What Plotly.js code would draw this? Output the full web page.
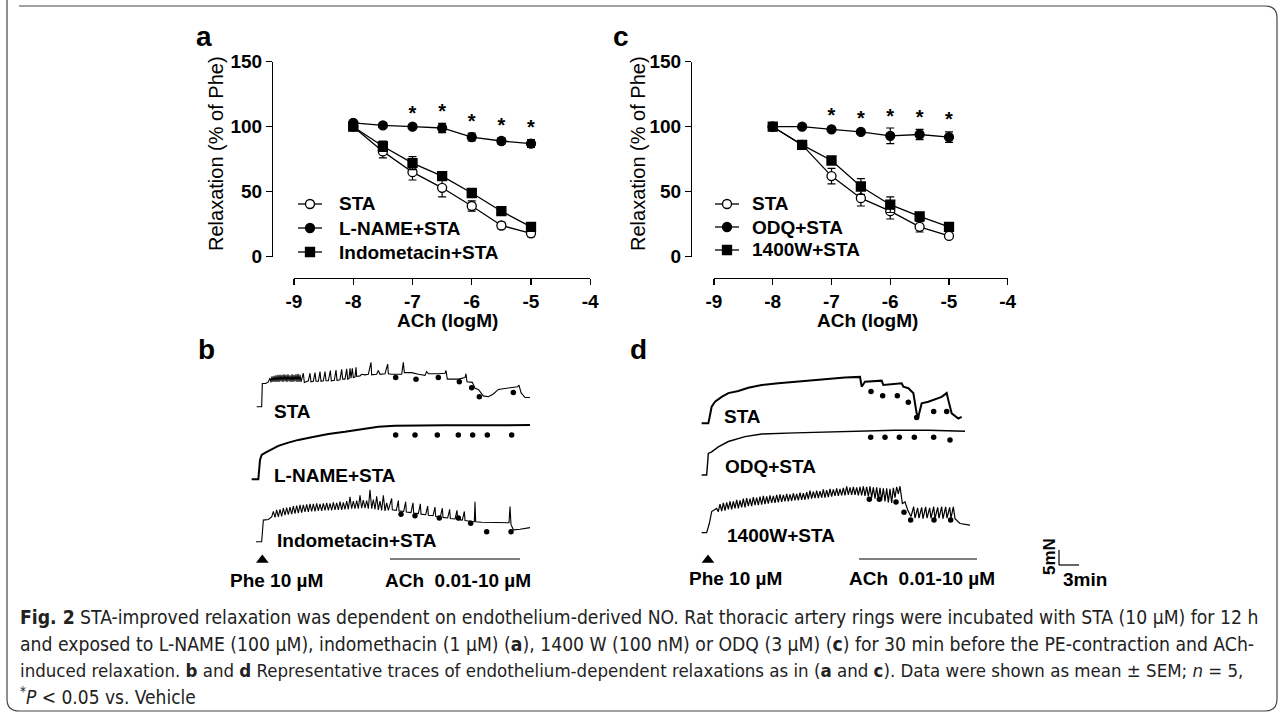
<!DOCTYPE html>
<html><head><meta charset="utf-8">
<script src="https://cdn.plot.ly/plotly-3.0.1.min.js"></script>
<style>html,body{margin:0;padding:0;background:#fff}#chart{width:1284px;height:715px}</style>
</head><body><div id="chart"></div>
<script>
// ---------- Panel a / c : concentration-response data ----------
const doseX = [-8, -7.5, -7, -6.5, -6, -5.5, -5];
const xTicks = [-9, -8, -7, -6, -5, -4];
const yTicks = [0, 50, 100, 150];
const sigDoses = [-7, -6.5, -6, -5.5, -5];

const aNames = ['STA', 'L-NAME+STA', 'Indometacin+STA'];
const aSTA = [100, 81, 65, 53, 39, 24, 18];
const aSTAerr = [1, 5, 6, 7, 4, 2.5, 2.5];
const aLNAME = [103, 101, 100, 99, 92, 89, 87];
const aLNAMEerr = [1, 1, 1, 3.5, 3, 2.5, 3];
const aIndo = [100, 85, 72, 62, 49, 35, 23];
const aIndoErr = [1, 4, 5, 2, 2, 2, 2];

const cNames = ['STA', 'ODQ+STA', '1400W+STA'];
const cSTA = [100, 86, 62, 45, 35, 23, 16];
const cSTAerr = [1, 1, 6, 6, 6, 4, 2];
const cODQ = [100, 100, 98, 96, 93, 94, 92];
const cODQerr = [1, 1, 1.5, 1.5, 6, 4, 4];
const c1400W = [100, 86, 74, 54, 40, 31, 23];
const c1400Werr = [1, 1, 2, 6, 6, 2, 2];

// ---------- Panel b / d : representative traces [time (min), tension] ----------
const bSTA = [[1.75,0],[2.5,0],[2.6,4.3],[3.1,4.3],[3.5,4.6],
 [3.75,5.3],[3.9,4.5],[4.05,5.6],[4.2,4.6],[4.35,5.7],[4.5,4.6],[4.65,5.8],[4.8,4.6],[4.95,5.9],[5.1,4.6],[5.25,5.9],[5.4,4.7],[5.55,5.9],[5.7,4.6],[5.85,6.0],[6.0,4.7],[6.15,5.9],[6.3,4.6],[6.45,6.0],[6.6,4.7],[6.75,5.8],[6.9,4.6],[7.05,6.0],[7.2,4.6],[7.35,5.9],[7.5,4.7],[7.65,6.0],[7.8,4.6],[7.95,6.1],[8.1,4.6],[8.25,5.9],[8.4,4.6],
 [8.75,6.2],[8.9,4.5],[9.25,4.6],[9.5,4.8],[9.75,6.2],[9.9,4.6],[10.25,4.7],[10.5,6.3],[10.65,4.7],[11.0,4.7],[11.25,6.5],[11.4,4.7],[11.75,4.8],[12.0,6.5],[12.15,4.8],[12.5,4.8],[12.8,6.7],[12.95,4.8],[13.4,4.9],[13.65,6.8],[13.8,4.9],[14.25,5.0],[14.5,6.9],[14.65,5.1],[15.0,5.1],[15.25,7.0],[15.4,5.1],[15.6,5.2],[15.75,7.1],[15.9,5.3],[16.1,7.1],[16.25,5.4],[16.5,5.5],[16.65,7.3],[16.75,5.6],[17.25,5.7],[17.5,6.0],[18.0,5.9],[18.5,6.0],[18.9,8.2],[19.0,5.9],[19.75,6.0],[20.0,6.7],[20.25,6.0],[21.0,6.1],[21.4,7.9],[21.5,6.1],[22.0,6.0],[23.5,6.0],[23.75,8.2],[23.9,6.3],[25.0,6.3],[26.0,6.0],[27.0,5.8],[27.25,6.5],[27.5,6.1],[29.0,6.1],[30.0,6.2],[30.15,6.7],[30.35,5.1],[32.0,5.1],[33.0,5.4],[33.15,6.1],[33.3,4.6],[34.1,4.5],[34.5,3.4],[35.0,3.2],[35.75,2.0],[36.5,1.85],[37.25,2.35],[38.0,3.2],[39.5,3.4],[40.9,3.7],[41.1,4.0],[41.4,2.6],[42.0,1.7],[42.75,1.7]];
const bSTAdots = [[22.6,5.4],[25.65,5.1],[29.0,5.4],[32.15,4.6],[34.0,3.5],[35.15,1.85],[40.25,2.65]];

const bLNAME = [[1.0,0],[2.0,0],[2.25,3.6],[2.5,4.5],[3.0,4.9],[4.0,5.6],[5.0,6.2],[6.5,6.8],[8.0,7.3],[10,7.8],[12.5,8.4],[15,8.8],[17.5,9.3],[20,9.75],[22.5,9.9],[25,9.95],[27.5,9.95],[30,10.0],[35,10.0],[40,10.05],[42.75,10.05]];
const bLNAMEdots = [[22.6,8.2],[25.5,8.2],[28.85,8.2],[32.0,8.2],[34.15,8.2],[36.35,8.2],[40.0,8.2]];

const bIndo = [[1.65,0],[2.5,0],[2.75,4.0],[3.5,4.1],[4.0,4.6],
 [4.25,5.6],[4.5,4.5],[4.75,5.9],[5.0,4.6],[5.25,6.0],[5.5,4.7],[5.75,6.2],[6.0,4.9],[6.25,6.3],[6.5,5.0],[6.75,6.4],[7.0,5.1],[7.25,6.6],[7.5,5.2],[7.75,6.7],[8.0,5.3],[8.25,6.8],[8.5,5.4],[8.75,6.8],[9.0,5.5],[9.25,6.9],[9.5,5.5],[9.75,7.0],[10.0,5.6],[10.25,7.0],[10.5,5.6],[10.75,7.1],[11.0,5.7],[11.25,7.0],[11.5,5.7],[11.75,7.1],[12.0,5.8],[12.25,7.2],[12.5,5.8],[12.75,7.1],[13.0,5.8],[13.25,7.3],[13.5,5.9],[13.75,7.2],[14.0,5.9],[14.25,7.4],[14.5,5.9],[14.75,7.3],[15.0,6.0],[15.25,7.5],[15.5,6.0],[15.75,8.3],[16.0,6.1],[16.25,7.5],[16.5,6.1],[16.75,7.6],[17.0,6.1],[17.25,8.6],[17.5,6.2],[17.75,7.7],[18.0,6.2],[18.25,7.6],[18.5,6.1],[18.75,9.6],[19.0,6.1],[19.25,7.8],[19.5,6.0],[19.75,8.4],[20.0,5.9],[20.25,7.5],[20.5,5.8],[20.75,8.6],[21.0,5.7],[21.25,7.2],
 [21.5,5.8],[22.0,8.0],[22.1,5.9],[22.7,5.8],[23.0,7.6],[23.1,5.7],[23.8,5.6],[24.1,7.4],[24.2,5.5],[24.9,5.4],[25.2,7.2],[25.3,5.3],[26.0,5.2],[26.3,7.0],[26.4,5.1],[27.1,5.0],[27.4,6.6],[27.5,4.9],[28.2,4.8],[28.5,6.4],[28.6,4.7],[29.3,4.6],[29.6,6.2],[29.7,4.5],[30.4,4.4],[30.7,6.0],[30.8,4.3],[31.5,4.2],[31.8,5.8],[31.9,4.1],[32.6,4.0],[32.9,5.6],[33.0,3.9],[33.6,3.8],[34.4,3.7],[34.5,7.4],[34.6,3.7],[35.5,3.6],[37.0,3.6],[39.0,3.5],[39.6,3.5],[39.75,6.5],[39.9,3.2],[40.25,2.2],[41.25,2.3],[42.75,2.6]];
const bIndoDots = [[23.4,5.1],[25.5,4.8],[29.15,4.4],[32.0,4.4],[33.85,3.4],[36.25,1.85],[39.9,1.85]];

const dSTA = [[1.0,0],[2.0,0],[2.25,1.5],[2.5,3.1],[3.0,4.0],[4.0,4.9],[5.0,5.6],[6.5,6.0],[8.0,6.6],[10,7.1],[12.5,7.4],[15,7.7],[17.5,8.0],[20,8.3],[22.5,8.5],[24.75,8.6],[25.0,6.8],[25.5,7.7],[28,7.9],[28.25,7.1],[31,7.4],[31.25,6.8],[32,6.5],[32.5,5.9],[32.75,5.6],[33.25,1.85],[33.5,1.2],[34,3.7],[35,4.0],[37,4.9],[37.75,5.6],[38,4.3],[38.5,1.85],[39.5,0.9],[40,1.2]];
const dSTAdots = [[26.4,5.9],[28.15,5.1],[30.35,5.1],[32.0,3.9],[33.25,1.1],[35.8,2.2],[37.75,2.2]];

const dODQ = [[1.0,0],[1.75,0],[2.0,4.0],[2.5,4.3],[3.5,5.2],[5.0,6.2],[7.5,7.1],[10,7.6],[15,7.8],[20,8.0],[25,8.2],[30,8.3],[35,8.3],[40.5,8.1]];
const dODQdots = [[26.35,7.0],[28.5,7.0],[30.65,7.0],[32.9,7.0],[35.8,7.0],[38.25,6.5]];

const d1400W = [[1.0,0],[1.75,0],[2.15,1.7],[2.5,3.9],[3.25,4.5],
 [3.5,3.9],[3.75,5.3],[4.0,4.0],[4.25,5.5],[4.5,4.1],[4.75,5.6],[5.0,4.3],[5.25,5.8],[5.5,4.3],[5.75,5.8],[6.0,4.5],[6.25,6.1],[6.5,4.5],[6.75,6.0],[7.0,4.7],[7.25,6.3],[7.5,4.7],[7.75,6.4],[8.0,4.9],[8.25,6.3],[8.5,4.9],[8.75,6.6],[9.0,5.1],[9.25,6.5],[9.5,5.1],[9.75,6.7],[10.0,5.2],[10.25,6.8],[10.5,5.3],[10.75,6.7],[11.0,5.4],[11.25,6.9],[11.5,5.5],[11.75,6.8],[12.0,5.5],[12.25,7.0],[12.5,5.6],[12.75,7.1],[13.0,5.7],[13.25,7.0],[13.5,5.8],[13.75,7.2],[14.0,5.8],[14.25,7.1],[14.5,5.9],[14.75,7.3],[15.0,6.0],[15.25,7.2],[15.5,6.0],[15.75,7.4],[16.0,6.1],[16.25,7.3],[16.5,6.1],[16.75,7.5],[17.0,6.2],[17.25,7.8],[17.5,6.3],[17.75,7.6],[18.0,6.4],[18.25,7.8],[18.5,6.4],[18.75,7.7],[19.0,6.5],[19.25,8.0],[19.5,6.5],[19.75,7.9],[20.0,6.6],[20.25,8.1],[20.5,6.7],[20.75,8.0],[21.0,6.8],[21.25,8.2],[21.5,6.8],[21.75,8.1],[22.0,6.9],[22.25,8.3],[22.5,6.9],[22.75,8.6],[23.0,7.0],[23.25,8.4],[23.5,7.0],[23.75,8.5],[24.0,7.0],[24.25,8.4],[24.5,6.9],[24.75,8.5],[25.0,6.9],[25.25,8.6],[25.5,6.8],[25.75,8.5],[26.0,6.7],[26.25,8.6],[26.5,6.5],[26.75,8.4],[27.0,6.3],[27.25,8.4],[27.5,6.1],[27.75,8.3],[28.0,6.0],[28.25,8.2],[28.5,5.8],[28.75,8.2],[29.0,5.6],[29.25,8.1],[29.5,5.5],[29.75,8.3],[30.0,6.5],[30.25,8.5],[30.5,7.2],[30.75,8.6],
 [31.1,5.4],[31.5,5.7],[31.9,4.2],[32.4,3.0],[32.8,4.8],[33.0,2.7],[33.4,4.6],[33.6,2.7],[34.0,4.7],[34.2,2.6],[34.6,4.8],[34.8,2.7],[35.2,4.6],[35.4,2.7],[35.8,4.8],[36.0,2.6],[36.4,4.7],[36.6,2.7],[37.0,4.8],[37.2,2.6],[37.6,4.8],[37.8,2.7],[38.2,4.7],[38.4,2.7],[38.75,4.8],[39.0,2.6],[39.75,1.7],[41.25,1.4]];
const d1400Wdots = [[26.15,6.2],[27.65,6.2],[30.15,5.7],[31.35,3.8],[32.35,2.35],[35.85,2.35],[38.35,2.35]];

// ---------- layout helpers ----------
const W = 1284, H = 715;
const PX = v => v / W;
const PY = v => 1 - v / H;
const FONT = 'Liberation Sans, Arial, Helvetica, sans-serif';
const NARROW = 'Liberation Sans Narrow, DejaVu Sans Condensed, Arial Narrow, sans-serif';
const BLACK = '#000';

function crc(x, y, err, symbol, fill, xa, ya) {
  return {
    x: x, y: y, type: 'scatter', mode: 'lines+markers',
    xaxis: xa, yaxis: ya, cliponaxis: false, showlegend: false, hoverinfo: 'skip',
    line: {color: BLACK, width: 1.3},
    marker: {symbol: symbol, size: 9, color: fill, line: {color: BLACK, width: 1.3}},
    error_y: {type: 'data', array: err, visible: true, color: BLACK, thickness: 1.2, width: 4}
  };
}
function stars(means, errs, xa, ya) {
  const xs = [], ys = [];
  doseX.forEach((d, i) => { if (sigDoses.includes(d)) { xs.push(d); ys.push(means[i] + errs[i] + 8); } });
  return {x: xs, y: ys, type: 'scatter', mode: 'text', text: xs.map(() => '<b>*</b>'),
    textfont: {family: FONT, size: 20, color: BLACK}, textposition: 'middle center',
    xaxis: xa, yaxis: ya, showlegend: false, cliponaxis: false, hoverinfo: 'skip'};
}
function rec(pairs, offset, xa, ya, w) {
  return {x: pairs.map(p => p[0]), y: pairs.map(p => p[1] + offset), type: 'scatter', mode: 'lines',
    line: {color: BLACK, width: w || 1.1}, xaxis: xa, yaxis: ya, showlegend: false, hoverinfo: 'skip', cliponaxis: false};
}
function dots(pairs, offset, xa, ya) {
  return {x: pairs.map(p => p[0]), y: pairs.map(p => p[1] + offset), type: 'scatter', mode: 'markers',
    marker: {color: BLACK, size: 5.5}, xaxis: xa, yaxis: ya, showlegend: false, hoverinfo: 'skip', cliponaxis: false};
}

// tension axis: 5.4 px per unit; panel b/d plotting window px 330..560
const tensTop = (560 - 330) / 5.4;
const offB = [28.39, 14.94, 3.39];
const offD = [25.31, 15.74, 5.06];

const traces = [
  crc(doseX, aSTA, aSTAerr, 'circle', '#fff', 'x', 'y'),
  crc(doseX, aLNAME, aLNAMEerr, 'circle', BLACK, 'x', 'y'),
  crc(doseX, aIndo, aIndoErr, 'square', BLACK, 'x', 'y'),
  stars(aLNAME, aLNAMEerr, 'x', 'y'),
  crc(doseX, cSTA, cSTAerr, 'circle', '#fff', 'x2', 'y2'),
  crc(doseX, cODQ, cODQerr, 'circle', BLACK, 'x2', 'y2'),
  crc(doseX, c1400W, c1400Werr, 'square', BLACK, 'x2', 'y2'),
  stars(cODQ, cODQerr, 'x2', 'y2'),
  rec(bSTA, offB[0], 'x3', 'y3', 1.1), dots(bSTAdots, offB[0], 'x3', 'y3'),
  rec(bLNAME, offB[1], 'x3', 'y3', 2.0), dots(bLNAMEdots, offB[1], 'x3', 'y3'),
  rec(bIndo, offB[2], 'x3', 'y3', 1.1), dots(bIndoDots, offB[2], 'x3', 'y3'),
  rec(dSTA, offD[0], 'x4', 'y4', 2.0), dots(dSTAdots, offD[0], 'x4', 'y4'),
  rec(dODQ, offD[1], 'x4', 'y4', 1.4), dots(dODQdots, offD[1], 'x4', 'y4'),
  rec(d1400W, offD[2], 'x4', 'y4', 1.2), dots(d1400Wdots, offD[2], 'x4', 'y4'),
  // Phe application arrowheads
  {x: [2.6], y: [0], type: 'scatter', mode: 'markers', marker: {symbol: 'triangle-up', size: 11, color: BLACK},
   xaxis: 'x3', yaxis: 'y3', showlegend: false, cliponaxis: false, hoverinfo: 'skip'},
  {x: [1.95], y: [0], type: 'scatter', mode: 'markers', marker: {symbol: 'triangle-up', size: 11, color: BLACK},
   xaxis: 'x4', yaxis: 'y4', showlegend: false, cliponaxis: false, hoverinfo: 'skip'}
];

const tickFont = {family: FONT, size: 19, color: BLACK};
function xAx(d0, d1, posY) {
  return {domain: [PX(d0), PX(d1)], range: [-9, -4], anchor: 'free', position: PY(posY),
    tickvals: xTicks, ticktext: xTicks.map(v => '<b>' + v + '</b>'), ticks: 'outside', ticklen: 6, tickwidth: 1.3, tickcolor: BLACK,
    showline: true, linecolor: BLACK, linewidth: 1.3, showgrid: false, zeroline: false,
    tickfont: tickFont, fixedrange: true};
}
function yAx(posX) {
  return {domain: [PY(256.7), PY(61.7)], range: [0, 150], anchor: 'free', position: PX(posX),
    tickvals: yTicks, ticktext: yTicks.map(v => '<b>' + v + '</b>'), ticks: 'outside', ticklen: 6, tickwidth: 1.3, tickcolor: BLACK,
    showline: true, linecolor: BLACK, linewidth: 1.3, showgrid: false, zeroline: false,
    tickfont: tickFont, fixedrange: true};
}
function hid(dom, rng) {
  return {domain: dom, range: rng, visible: false, showgrid: false, zeroline: false, fixedrange: true};
}

function ann(text, x, y, size, opts) {
  return Object.assign({text: text, x: PX(x), y: PY(y), xref: 'paper', yref: 'paper', showarrow: false,
    xanchor: 'center', yanchor: 'middle', font: {family: FONT, size: size, color: BLACK}}, opts || {});
}
const annotations = [
  ann('<b>a</b>', 204, 37, 28), ann('<b>c</b>', 621, 37, 28),
  ann('<b>b</b>', 206, 349, 28), ann('<b>d</b>', 638, 349, 28),
  ann('Relaxation (% of Phe)', 216, 154, 20, {textangle: -90}),
  ann('Relaxation (% of Phe)', 638, 154, 20, {textangle: -90}),
  ann('<b>ACh (logM)</b>', 447, 321, 19), ann('<b>ACh (logM)</b>', 867, 321, 19),
  ann('<b>STA</b>', 272, 411, 19, {xanchor: 'left'}),
  ann('<b>L-NAME+STA</b>', 272, 475, 19, {xanchor: 'left'}),
  ann('<b>Indometacin+STA</b>', 275, 540, 19, {xanchor: 'left'}),
  ann('<b>STA</b>', 722, 416, 19, {xanchor: 'left'}),
  ann('<b>ODQ+STA</b>', 723, 466, 19, {xanchor: 'left'}),
  ann('<b>1400W+STA</b>', 725, 535, 19, {xanchor: 'left'}),
  ann('<b>Phe 10 µM</b>', 276, 580, 19), ann('<b>ACh  0.01-10 µM</b>', 458, 580, 19),
  ann('<b>Phe 10 µM</b>', 736, 578, 19), ann('<b>ACh  0.01-10 µM</b>', 922, 578, 19),
  ann('<b>5mN</b>', 1049, 557, 17, {textangle: -90}),
  ann('<b>3min</b>', 1085, 579, 19)
];

const shapes = [];
// custom legends (rows tighter than the built-in legend allows)
const legendRows = {a: {names: aNames, mx: 310, tx: 337, ys: [204, 228, 252]},
                    c: {names: cNames, mx: 727, tx: 750, ys: [204, 227, 250]}};
const legSym = [['circle', '#fff'], ['circle', BLACK], ['rect', BLACK]];
Object.values(legendRows).forEach(L => {
  L.names.forEach((nm, i) => {
    const y = L.ys[i];
    shapes.push({type: 'line', xref: 'paper', yref: 'paper', x0: PX(L.mx - 12), x1: PX(L.mx + 12), y0: PY(y), y1: PY(y),
      line: {color: BLACK, width: 1.3}});
    shapes.push({type: legSym[i][0], xref: 'paper', yref: 'paper', xsizemode: 'pixel', ysizemode: 'pixel',
      xanchor: PX(L.mx), yanchor: PY(y), x0: -4.5, x1: 4.5, y0: -4.5, y1: 4.5,
      fillcolor: legSym[i][1], line: {color: BLACK, width: 1.3}});
    annotations.push(ann('<b>' + nm + '</b>', L.tx, y, 19, {xanchor: 'left'}));
  });
});

shapes.push(
  // ACh application bars
  {type: 'line', xref: 'x3', yref: 'paper', x0: 21.75, x1: 41.25, y0: PY(559), y1: PY(559), line: {color: BLACK, width: 1.2}},
  {type: 'line', xref: 'x4', yref: 'paper', x0: 24.6, x1: 42.3, y0: PY(559), y1: PY(559), line: {color: BLACK, width: 1.2}},
  // scale bar
  {type: 'line', xref: 'paper', yref: 'paper', x0: PX(1059), x1: PX(1059), y0: PY(550), y1: PY(565), line: {color: BLACK, width: 1.2}},
  {type: 'line', xref: 'paper', yref: 'paper', x0: PX(1059), x1: PX(1079), y0: PY(565), y1: PY(565), line: {color: BLACK, width: 1.2}},
  // figure frame
  {type: 'path', xref: 'paper', yref: 'paper',
   path: `M ${PX(7)},${PY(0)} L ${PX(7)},${PY(699)} Q ${PX(7)},${PY(711)} ${PX(19)},${PY(711)} L ${PX(1265)},${PY(711)} Q ${PX(1277)},${PY(711)} ${PX(1277)},${PY(699)} L ${PX(1277)},${PY(18)} Q ${PX(1277)},${PY(6)} ${PX(1265)},${PY(6)} L ${PX(19)},${PY(6)}`,
   line: {color: '#444', width: 1.2}}
);

const capLines = [
  '<b>Fig. 2</b> STA-improved relaxation was dependent on endothelium-derived NO. Rat thoracic artery rings were incubated with STA (10 µM) for 12 h',
  'and exposed to L-NAME (100 µM), indomethacin (1 µM) (<b>a</b>), 1400 W (100 nM) or ODQ (3 µM) (<b>c</b>) for 30 min before the PE-contraction and ACh-',
  'induced relaxation. <b>b</b> and <b>d</b> Representative traces of endothelium-dependent relaxations as in (<b>a</b> and <b>c</b>). Data were shown as mean ± SEM; <i>n</i> = 5,',
  '<sup>*</sup><i>P</i> &lt; 0.05 vs. Vehicle'
];
const capY = [617, 644, 670, 696];
const capSize = [19.2, 19.2, 18.5, 19];
capLines.forEach((t, i) => annotations.push(ann(t, 18, capY[i], capSize[i],
  {xanchor: 'left', font: {family: NARROW, size: capSize[i], color: '#222'}})));

const layout = {
  width: W, height: H, margin: {l: 0, r: 0, t: 0, b: 0},
  paper_bgcolor: '#fff', plot_bgcolor: 'rgba(0,0,0,0)',
  font: {family: FONT, color: BLACK}, showlegend: false,
  xaxis: xAx(294, 590.25, 278), yaxis: yAx(272),
  xaxis2: xAx(714, 1007.75, 278), yaxis2: yAx(691),
  xaxis3: hid([PX(245), PX(545)], [0, 45]), yaxis3: hid([PY(560), PY(330)], [0, tensTop]),
  xaxis4: hid([PX(695), PX(995)], [0, 45]), yaxis4: hid([PY(560), PY(330)], [0, tensTop]),
  annotations: annotations, shapes: shapes, hovermode: false
};

Plotly.newPlot('chart', traces, layout, {displayModeBar: false, staticPlot: true});
</script></body></html>
